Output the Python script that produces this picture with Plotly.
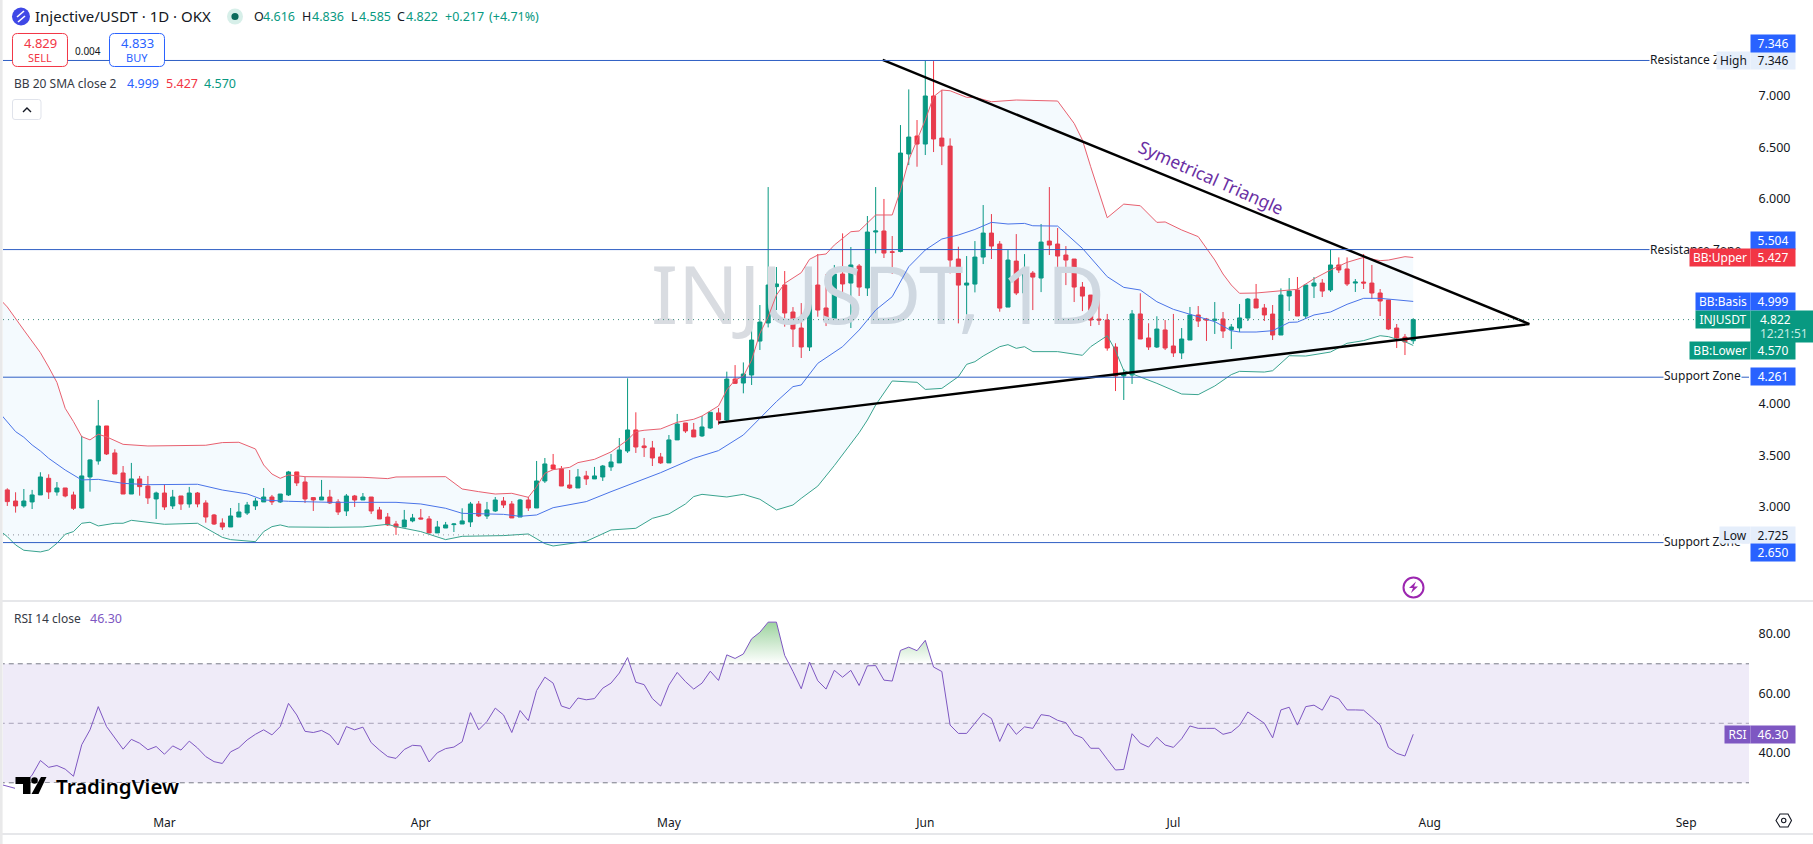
import datetime as dt
import plotly.graph_objects as go

W, H = 1813, 844
FONT = "Noto Sans"
INK = "#131722"
GREEN = "#089981"
RED = "#f23645"
BLUE = "#2962ff"
PURPLE = "#7e57c2"
LEVEL_BLUE = "#2f5fc4"

# Daily candles, one row per session: open, high, low, close
candles = [
    (3.163,3.179,3.007,3.049),(3.055,3.140,2.942,3.007),(3.007,3.172,2.990,3.055),(3.046,3.163,2.977,3.114),
    (3.114,3.335,3.114,3.289),(3.276,3.315,3.075,3.143),(3.143,3.240,3.107,3.182),(3.182,3.182,3.091,3.104),
    (3.114,3.146,2.968,2.984),(2.987,3.689,2.981,3.299),(3.289,3.461,3.146,3.455),(3.445,4.039,3.409,3.786),
    (3.786,3.786,3.503,3.513),(3.523,3.559,3.318,3.318),(3.328,3.396,3.123,3.123),(3.123,3.426,3.123,3.270),
    (3.270,3.299,3.107,3.195),(3.201,3.299,3.026,3.085),(3.075,3.146,2.880,3.133),(3.133,3.218,2.968,2.997),
    (3.007,3.163,2.977,3.094),(3.104,3.104,2.968,3.026),(3.026,3.192,2.990,3.133),(3.133,3.143,2.994,3.026),
    (3.036,3.062,2.844,2.899),(2.919,2.929,2.822,2.831),(2.841,2.886,2.773,2.802),(2.802,2.987,2.802,2.909),
    (2.899,3.036,2.899,2.948),(2.938,3.046,2.919,3.016),(3.007,3.085,2.968,3.055),(3.046,3.182,3.046,3.094),
    (3.094,3.114,3.016,3.046),(3.046,3.123,3.036,3.123),(3.114,3.348,3.104,3.338),(3.338,3.338,3.201,3.231),
    (3.240,3.289,3.036,3.075),(3.088,3.094,2.958,3.065),(3.065,3.260,3.065,3.094),(3.094,3.163,3.026,3.036),
    (3.046,3.072,2.919,2.948),(2.958,3.123,2.909,3.104),(3.104,3.114,2.997,3.065),(3.065,3.133,3.065,3.094),
    (3.094,3.094,2.929,2.958),(2.968,2.997,2.880,2.880),(2.899,2.938,2.812,2.822),(2.831,2.861,2.725,2.802),
    (2.802,2.968,2.802,2.870),(2.861,2.929,2.848,2.890),(2.890,2.977,2.877,2.880),(2.880,2.909,2.740,2.744),
    (2.744,2.861,2.744,2.802),(2.792,2.851,2.792,2.822),(2.825,2.838,2.753,2.831),(2.831,2.984,2.831,2.861),
    (2.851,3.046,2.802,3.026),(3.026,3.055,2.899,2.909),(2.909,3.046,2.880,2.968),(2.958,3.094,2.948,3.065),
    (3.055,3.094,2.987,3.016),(3.026,3.055,2.890,2.890),(2.899,3.075,2.899,3.065),(3.065,3.094,2.958,2.987),
    (2.987,3.445,2.987,3.250),(3.250,3.474,3.231,3.416),(3.406,3.513,3.357,3.367),(3.367,3.396,3.201,3.201),
    (3.211,3.357,3.172,3.182),(3.182,3.367,3.182,3.289),(3.299,3.348,3.211,3.270),(3.270,3.387,3.270,3.299),
    (3.289,3.406,3.250,3.396),(3.387,3.513,3.348,3.435),(3.426,3.669,3.426,3.552),(3.542,4.250,3.523,3.747),
    (3.747,3.919,3.523,3.581),(3.591,3.669,3.484,3.575),(3.572,3.640,3.396,3.474),(3.484,3.523,3.416,3.426),
    (3.426,3.698,3.426,3.650),(3.650,3.903,3.650,3.805),(3.815,3.815,3.718,3.737),(3.747,3.815,3.679,3.679),
    (3.689,3.883,3.679,3.776),(3.766,3.922,3.757,3.919),(3.913,3.961,3.796,3.844),(3.844,4.315,3.825,4.243),
    (4.243,4.379,4.195,4.201),(4.204,4.405,4.104,4.292),(4.282,4.792,4.185,4.623),(4.613,4.964,4.526,4.798),
    (4.789,6.113,4.746,5.159),(5.143,5.334,4.915,5.169),(5.159,5.295,4.753,4.886),(4.896,4.944,4.555,4.730),
    (4.740,4.983,4.448,4.555),(4.555,5.175,4.516,5.159),(5.159,5.461,4.850,4.915),(4.935,5.266,4.759,4.808),
    (4.808,5.354,4.808,5.266),(5.266,5.662,5.061,5.169),(5.178,5.529,4.740,5.354),(5.344,5.363,5.052,5.139),
    (5.130,5.831,5.052,5.675),(5.675,6.113,5.467,5.685),(5.685,5.997,5.422,5.470),(5.483,5.636,5.266,5.477),
    (5.486,6.717,5.477,6.444),(6.435,7.064,6.327,6.600),(6.610,6.766,6.311,6.532),(6.532,7.346,6.425,7.000),
    (7.000,7.340,6.454,6.581),(6.590,7.058,6.327,6.512),(6.512,6.587,5.272,5.402),(5.412,5.532,4.785,5.158),
    (5.158,5.441,4.844,5.178),(5.168,5.587,5.087,5.431),(5.431,5.938,5.363,5.665),(5.665,5.850,5.412,5.538),
    (5.558,5.587,4.899,4.934),(4.944,5.499,4.944,5.402),(5.392,5.655,5.061,5.081),(5.081,5.460,5.042,5.275),
    (5.275,5.295,4.915,5.236),(5.227,5.753,5.090,5.577),(5.587,6.113,5.451,5.548),(5.558,5.714,5.285,5.441),
    (5.451,5.538,5.158,5.402),(5.412,5.412,4.993,5.139),(5.139,5.188,4.905,5.051),(5.061,5.061,4.759,4.818),
    (4.827,5.029,4.769,4.818),(4.818,4.877,4.519,4.545),(4.555,4.591,4.126,4.273),(4.273,4.341,4.039,4.292),
    (4.282,4.915,4.195,4.877),(4.877,5.078,4.633,4.633),(4.643,4.786,4.526,4.555),(4.555,4.854,4.545,4.730),
    (4.721,4.818,4.526,4.545),(4.565,4.877,4.458,4.497),(4.497,4.740,4.438,4.633),(4.623,4.945,4.623,4.867),
    (4.867,4.954,4.750,4.808),(4.828,4.838,4.614,4.818),(4.815,4.993,4.682,4.825),(4.828,4.896,4.643,4.711),
    (4.721,4.779,4.536,4.750),(4.740,4.974,4.701,4.838),(4.837,5.032,4.808,5.022),(5.022,5.169,4.935,4.935),
    (4.935,4.974,4.808,4.867),(4.876,4.964,4.623,4.672),(4.672,5.126,4.672,5.061),(5.052,5.227,4.906,5.100),
    (5.110,5.237,4.857,4.857),(4.857,5.159,4.828,5.159),(5.149,5.237,5.032,5.178),(5.178,5.217,5.042,5.100),
    (5.110,5.506,5.091,5.354),(5.354,5.428,5.276,5.305),(5.315,5.428,5.149,5.169),(5.178,5.217,5.091,5.188),
    (5.188,5.461,5.120,5.178),(5.178,5.354,5.022,5.081),(5.081,5.120,4.857,5.003),(5.013,5.013,4.720,4.730),
    (4.740,4.779,4.545,4.643),(4.652,4.682,4.477,4.604),(4.616,4.836,4.585,4.822),
]

# Bollinger band readings as (session number, price)
bb_upper = [
    (0,5.03),(1,4.945),(3,4.72),(5,4.50),(6,4.36),(7,4.21),(8,3.958),(9,3.828),(10,3.682),(11,3.650),(12,3.705),
    (13,3.68),(15,3.607),(18,3.591),(25,3.598),(27,3.624),(29,3.627),(31,3.562),(32,3.406),(33,3.318),(34,3.276),
    (35,3.309),(37,3.292),(40,3.289),(44,3.286),(47,3.273),(48,3.289),(54,3.292),(56,3.172),(58,3.146),(60,3.123),
    (62,3.130),(64,3.091),(65,3.195),(66,3.325),(67,3.36),(69,3.383),(70,3.429),(72,3.461),(74,3.533),(76,3.650),
    (77,3.731),(78,3.744),(80,3.757),(82,3.822),(84,3.851),(85,3.883),(87,3.981),(88,4.137),(89,4.234),(90,4.27),
    (91,4.428),(92,4.688),(93,4.850),(94,5.061),(95,5.175),(97,5.279),(98,5.409),(99,5.451),(100,5.461),(101,5.548),
    (103,5.678),(104,5.685),(106,5.841),(108,5.841),(109,6.08),(110,6.376),(111,6.571),(112,6.766),(113,6.993),
    (114,7.058),(115,7.051),(117,6.987),(118,6.987),(120,6.944),(123,6.961),(128,6.951),(130,6.733),(131,6.571),
    (132,6.311),(134,5.814),(136,5.947),(138,5.931),(140,5.769),(141,5.773),(143,5.695),(145,5.630),(147,5.403),
    (148,5.266),(149,5.159),(150,5.078),(152,5.081),(155,5.104),(157,5.117),(159,5.220),(161,5.305),(163,5.380),
    (165,5.428),(167,5.396),(168,5.402),(170,5.435),(171,5.427),
]
bb_basis = [
    (0,3.92),(1,3.828),(2,3.731),(3,3.676),(4,3.601),(5,3.542),(6,3.471),(8,3.357),(10,3.260),(12,3.266),(15,3.227),
    (18,3.214),(24,3.218),(27,3.162),(30,3.124),(32,3.065),(35,3.052),(40,3.042),(48,3.042),(51,3.026),(54,2.984),
    (56,2.935),(61,2.925),(63,2.906),(65,2.919),(67,2.990),(71,3.049),(74,3.146),(77,3.240),(80,3.331),(84,3.471),
    (87,3.546),(90,3.698),(94,4.023),(96,4.169),(97,4.185),(99,4.396),(102,4.558),(104,4.720),(106,4.915),(108,5.045),
    (110,5.337),(112,5.500),(114,5.607),(116,5.646),(118,5.700),(120,5.769),(122,5.753),(124,5.759),(125,5.736),
    (128,5.733),(131,5.516),(134,5.240),(136,5.136),(138,5.110),(140,4.996),(142,4.922),(145,4.851),(147,4.802),
    (149,4.714),(150,4.701),(152,4.701),(154,4.714),(156,4.795),(157,4.798),(159,4.867),(161,4.896),(163,4.971),
    (165,5.029),(167,5.029),(171,4.999),
]
bb_lower = [
    (0,2.773),(1,2.708),(2,2.627),(3,2.575),(5,2.559),(6,2.578),(7,2.643),(8,2.731),(9,2.757),(10,2.838),(11,2.848),
    (12,2.812),(14,2.838),(15,2.838),(16,2.867),(18,2.848),(20,2.828),(24,2.838),(27,2.701),(28,2.679),(31,2.659),
    (32,2.757),(33,2.805),(34,2.822),(35,2.802),(40,2.799),(44,2.802),(47,2.828),(48,2.805),(51,2.757),(53,2.701),
    (54,2.679),(56,2.711),(61,2.718),(64,2.734),(66,2.640),(67,2.617),(71,2.662),(74,2.773),(77,2.789),(79,2.886),
    (81,2.929),(83,3.026),(84,3.098),(85,3.120),(88,3.094),(90,3.120),(92,3.072),(94,2.968),(96,3.016),(97,3.081),
    (99,3.20),(101,3.40),(104,3.72),(105,3.844),(106,3.990),(108,4.224),(111,4.211),(112,4.142),(114,4.152),(116,4.266),
    (117,4.386),(118,4.412),(119,4.467),(121,4.558),(122,4.578),(123,4.542),(124,4.558),(125,4.510),(128,4.510),
    (131,4.474),(132,4.558),(134,4.665),(135,4.52),(136,4.325),(138,4.266),(140,4.201),(143,4.097),(145,4.091),
    (147,4.175),(149,4.286),(150,4.318),(153,4.311),(154,4.324),(156,4.470),(158,4.467),(161,4.506),(163,4.591),
    (165,4.617),(167,4.665),(168,4.656),(170,4.607),(171,4.570),
]

# RSI(14), starting one session before the first candle
rsi_values = [
    29.6,28.9,28.1,29.6,32.6,37.5,35.2,35.8,34.6,32.2,42.8,47.8,55.6,48.9,44.9,41.3,44.6,43.3,41.1,42.2,39.6,42.4,41.0,
    44.0,41.7,38.8,37.1,36.5,40.4,41.8,44.4,46.3,47.8,46.1,48.9,56.7,52.8,47.3,46.9,47.6,46.1,42.7,48.9,47.8,48.7,
    43.5,41.0,38.8,38.2,41.2,42.6,42.4,37.0,40.1,41.5,42.0,43.8,53.6,47.8,50.6,55.1,52.8,46.9,54.3,50.9,61.0,65.5,
    63.5,55.8,54.9,58.5,57.9,58.3,61.8,63.5,66.9,72.1,63.8,63.0,58.3,55.8,62.8,67.1,64.0,61.5,63.5,67.5,64.4,73.0,
    71.8,73.3,78.4,80.6,84.0,84.0,72.8,67.4,61.6,70.6,64.3,61.5,67.8,65.5,67.8,62.7,69.3,69.4,64.5,64.2,74.5,75.6,
    74.4,77.9,68.9,67.4,49.4,46.6,46.6,50.0,53.4,51.6,43.9,49.9,46.3,48.8,48.3,52.9,52.5,51.0,50.2,46.2,45.1,41.6,
    41.6,37.9,34.3,34.5,46.5,43.3,42.0,45.3,42.7,41.9,44.8,49.1,48.3,48.3,48.3,46.3,47.0,49.3,53.8,51.9,50.0,45.1,
    54.5,55.4,49.4,55.6,56.1,54.4,59.3,58.2,54.5,54.5,54.4,52.0,49.4,41.9,39.9,39.0,46.30,
]

# Horizontal levels drawn on the price pane
resistance_top = 7.346
resistance_zone = 5.504
support_zone = 4.261
support_low = 2.650
period_low = 2.725
last_close = 4.822
bb_now = {"basis": 4.999, "upper": 5.427, "lower": 4.570}

price_ticks = [7.0, 6.5, 6.0, 4.0, 3.5, 3.0]
rsi_ticks = [80, 60, 40]
rsi_levels = [70, 50, 30]
month_ticks = ["2026-03-01", "2026-04-01", "2026-05-01", "2026-06-01", "2026-07-01", "2026-08-01", "2026-09-01"]
month_labels = ["Mar", "Apr", "May", "Jun", "Jul", "Aug", "Sep"]

# Trend lines of the triangle, as (time, price)
triangle_upper = [("2026-05-26 20:24", 7.351), ("2026-08-13 01:00", 4.779)]
triangle_lower = [("2026-05-07 00:00", 3.818), ("2026-08-13 01:00", 4.779)]

FIRST_SESSION = dt.datetime(2026, 2, 10)


def session(n):
    return FIRST_SESSION + dt.timedelta(days=n - 1)


def px(x):
    return x / W


def py(y):
    return 1 - y / H


def pt(x, y):
    return f"{px(x):.5f},{py(y):.5f}"


def rrect_path(x0, y0, x1, y1, r):
    return (
        f"M{pt(x0 + r, y0)} L{pt(x1 - r, y0)} Q{pt(x1, y0)} {pt(x1, y0 + r)} "
        f"L{pt(x1, y1 - r)} Q{pt(x1, y1)} {pt(x1 - r, y1)} L{pt(x0 + r, y1)} "
        f"Q{pt(x0, y1)} {pt(x0, y1 - r)} L{pt(x0, y0 + r)} Q{pt(x0, y0)} {pt(x0 + r, y0)} Z"
    )


def poly_path(points, close=True):
    body = " L".join(pt(x, y) for x, y in points)
    return "M" + body + (" Z" if close else "")


shapes = []
annotations = []


def add_path(path, fill=None, line=None, width=1):
    shapes.append(dict(type="path", xref="paper", yref="paper", path=path,
                       fillcolor=fill or "rgba(0,0,0,0)",
                       line=dict(color=line or "rgba(0,0,0,0)", width=width if line else 0)))


def add_circle(cx, cy, r, fill=None, line=None, width=1):
    shapes.append(dict(type="circle", xref="paper", yref="paper",
                       x0=px(cx - r), x1=px(cx + r), y0=py(cy + r), y1=py(cy - r),
                       fillcolor=fill or "rgba(0,0,0,0)",
                       line=dict(color=line or "rgba(0,0,0,0)", width=width if line else 0)))


def add_rule(x0, x1, y, color, width=1):
    shapes.append(dict(type="line", xref="paper", yref="paper", x0=px(x0), x1=px(x1), y0=py(y), y1=py(y),
                       line=dict(color=color, width=width)))


def add_level(price, color, dash="solid", x1=1749):
    shapes.append(dict(type="line", xref="paper", yref="y", x0=px(3), x1=px(x1), y0=price, y1=price,
                       line=dict(color=color, width=1, dash=dash)))


def label(x, y, text, size=12, color=INK, anchor="left", weight=None, **kw):
    font = dict(family=FONT, size=size, color=color)
    if weight:
        font["weight"] = weight
    annotations.append(dict(xref="paper", yref="paper", x=px(x), y=py(y), text=text, showarrow=False,
                            xanchor=anchor, yanchor="middle", font=font, borderpad=0, **kw))


def badge(x0, x1, y0, y1, text, bg, color="#ffffff", size=12):
    annotations.append(dict(xref="paper", yref="paper", x=px(x0), y=py((y0 + y1) / 2), text=text, showarrow=False,
                            xanchor="left", yanchor="middle", width=x1 - x0, height=y1 - y0, bgcolor=bg,
                            align="center", valign="middle", borderpad=0,
                            font=dict(family=FONT, size=size, color=color)))


# Pane dividers and the left edge
add_rule(0, W, 601, "#e6e7ea", 2)
add_rule(0, W, 834, "#e6e7ea", 2)
shapes.append(dict(type="rect", xref="paper", yref="paper", x0=0, x1=px(2.6), y0=0, y1=1,
                   fillcolor="#e9e9ea", line=dict(width=0)))

# Price levels
for value in (resistance_top, resistance_zone, support_zone, support_low):
    add_level(value, LEVEL_BLUE)
add_level(period_low, "#8a8e99", "1px,4px", 1716)
add_level(last_close, "#3f8f7f", "1px,4px", 1695)

# Header: symbol badge, market status, order buttons
add_circle(21, 16.5, 9, fill="#3f48e6")
add_path(poly_path([(17, 17), (24, 11)], close=False), line="#ffffff", width=1.6)
add_path(poly_path([(18, 22), (25, 16)], close=False), line="#ffffff", width=1.6)
add_circle(235, 16.5, 8, fill="#d7efe9")
add_circle(235, 16.5, 3.6, fill="#0b6b5c")
add_path(rrect_path(12.5, 33.5, 67.5, 66.5, 5), fill="#ffffff", line=RED)
add_path(rrect_path(109.5, 33.5, 164.5, 66.5, 5), fill="#ffffff", line=BLUE)
add_path(rrect_path(12.5, 99.5, 41, 119.5, 2.5), fill="#ffffff", line="#e0e3eb")
add_path(poly_path([(23, 112), (27, 108), (31, 112)], close=False), line=INK, width=1.4)

# Session-break marker and chart settings glyph
add_circle(1413.5, 587.5, 10, line="#9c27b0", width=2)
add_path(poly_path([(1416, 581.5), (1409, 588), (1413, 588), (1411, 593), (1418, 586.5), (1414, 586.5)]), fill="#9c27b0")
add_path(poly_path([(1776, 820.5), (1780, 814), (1788, 814), (1791.5, 820.5), (1788, 827), (1780, 827)]),
         line="#131722", width=1.1)
add_circle(1783.7, 820.5, 2.2, line="#131722", width=1.1)

# TradingView mark over the RSI pane
shapes.append(dict(type="rect", xref="paper", yref="paper", x0=px(15), x1=px(178), y0=py(797), y1=py(783),
                   fillcolor="#ffffff", line=dict(width=0)))
add_path(poly_path([(15.5, 777), (30.5, 777), (30.5, 794), (23, 794), (23, 784), (15.5, 784)]), fill="#000000")
add_circle(34.5, 780.5, 3.3, fill="#000000")
add_path(poly_path([(41, 777), (46.5, 777), (38.5, 794), (31.5, 794)]), fill="#000000")

# Header text
label(34, 16.5, "Injective/USDT · 1D · OKX", 15)
for x, text, color in [
    (252.5, "O", INK), (262, "4.616", GREEN), (301, "H", INK), (311, "4.836", GREEN), (350, "L", INK),
    (357.5, "4.585", GREEN), (396, "C", INK), (405, "4.822", GREEN), (444, "+0.217", GREEN), (488, "(+4.71%)", GREEN),
]:
    label(x, 16.5, text, 12.5, color)
label(40, 42.5, "4.829", 13, RED, "center")
label(40, 57, "SELL", 11, RED, "center")
label(88, 50.5, "0.004", 10, INK, "center")
label(137, 42.5, "4.833", 13, BLUE, "center")
label(137, 57, "BUY", 11, BLUE, "center")
label(12.5, 83.5, "BB 20 SMA close 2", 12, "#363a45")
label(125.5, 83.5, f"{bb_now['basis']:.3f}", 12.5, BLUE)
label(164.5, 83.5, f"{bb_now['upper']:.3f}", 12.5, RED)
label(203, 83.5, f"{bb_now['lower']:.3f}", 12.5, GREEN)
label(12.5, 618.5, "RSI 14 close", 12, "#363a45")
label(89, 618.5, f"{rsi_values[-1]:.2f}", 12.5, PURPLE)
label(55, 785.5, "TradingView", 20.5, "#000000", weight=600)
label(1211, 177, "Symetrical Triangle", 17.5, "#6a2fa3", "center", textangle=24)

# Level captions on the right of the pane
for y, text in [(60, "Resistance Zone"), (249.3, "Resistance Zone")]:
    label(1742, y, text, 12, INK, "right", bgcolor="#ffffff")
for y, text in [(376, "Support Zone"), (541.5, "Support Zone")]:
    label(1742, y, text, 12, INK, "right", bgcolor="#ffffff")

# Price-scale badges
LIGHT = "#e5eefb"
badge(1716, 1749, 52, 68.7, "High", LIGHT, INK)
badge(1750, 1794, 52, 68.7, f"{resistance_top:.3f}", LIGHT, INK)
badge(1750, 1794, 35, 51.7, f"{resistance_top:.3f}", BLUE)
badge(1750, 1794, 232, 248.7, f"{resistance_zone:.3f}", BLUE)
badge(1689, 1749, 249, 265.7, "BB:Upper", RED)
badge(1750, 1794, 249, 265.7, f"{bb_now['upper']:.3f}", RED)
badge(1695, 1749, 293.3, 310, "BB:Basis", BLUE)
badge(1750, 1794, 293.3, 310, f"{bb_now['basis']:.3f}", BLUE)
badge(1695, 1749, 311, 327.7, "INJUSDT", GREEN)
badge(1750, 1812, 311, 342, "", GREEN)
label(1759, 319.5, f"{last_close:.3f}", 12, "#ffffff")
label(1759, 333.5, "12:21:51", 12, "#c4ebe3")
badge(1689, 1749, 342, 358.7, "BB:Lower", GREEN)
badge(1750, 1794, 342, 358.7, f"{bb_now['lower']:.3f}", GREEN)
badge(1750, 1794, 368, 384.7, f"{support_zone:.3f}", BLUE)
badge(1719, 1749, 527, 543, "Low", LIGHT, INK)
badge(1750, 1794, 527, 543, f"{period_low:.3f}", LIGHT, INK)
badge(1750, 1794, 544, 560.7, f"{support_low:.3f}", BLUE)
badge(1724, 1749, 726, 742.7, "RSI", PURPLE)
badge(1750, 1794, 726, 742.7, f"{rsi_values[-1]:.2f}", PURPLE)

fig = go.Figure()

# Watermark sits under every series
fig.add_trace(go.Scatter(x=["2026-05-26 07:00"], y=[4.97], mode="text", text=["INJUSDT, 1D"],
                         textposition="middle center", hoverinfo="skip", showlegend=False,
                         textfont=dict(family=FONT, size=80, color="#d9dce1"), yaxis="y"))

# Bollinger band fill and lines
upper_x = [session(n) for n, _ in bb_upper]
upper_y = [v for _, v in bb_upper]
lower_x = [session(n) for n, _ in bb_lower]
lower_y = [v for _, v in bb_lower]
fig.add_trace(go.Scatter(x=upper_x + lower_x[::-1], y=upper_y + lower_y[::-1], mode="lines", fill="toself",
                         fillcolor="rgba(33,150,243,0.05)", line=dict(width=0), hoverinfo="skip", showlegend=False))
fig.add_trace(go.Scatter(x=upper_x, y=upper_y, mode="lines", line=dict(color="#e8606f", width=1), showlegend=False))
fig.add_trace(go.Scatter(x=[session(n) for n, _ in bb_basis], y=[v for _, v in bb_basis], mode="lines",
                         line=dict(color="#4a74e8", width=1), showlegend=False))
fig.add_trace(go.Scatter(x=lower_x, y=lower_y, mode="lines", line=dict(color="#3aa48f", width=1), showlegend=False))

# Candles
fig.add_trace(go.Candlestick(
    x=[session(i + 1) for i in range(len(candles))],
    open=[c[0] for c in candles], high=[c[1] for c in candles],
    low=[c[2] for c in candles], close=[c[3] for c in candles],
    increasing=dict(line=dict(color=GREEN, width=1), fillcolor=GREEN),
    decreasing=dict(line=dict(color=RED, width=1), fillcolor=RED),
    showlegend=False,
))

# Symmetrical triangle
for leg in (triangle_upper, triangle_lower):
    fig.add_trace(go.Scatter(x=[p[0] for p in leg], y=[p[1] for p in leg], mode="lines",
                             line=dict(color="#000000", width=2.4), hoverinfo="skip", showlegend=False))

# RSI pane: band, overbought gradient, guide levels, line
rsi_x = [session(i) for i in range(len(rsi_values))]
band_x = [session(-1), session(260)]
fig.add_trace(go.Scatter(x=band_x + band_x[::-1], y=[rsi_levels[0]] * 2 + [rsi_levels[2]] * 2, yaxis="y2", mode="lines",
                         fill="toself", fillcolor="rgba(126,87,194,0.12)", line=dict(width=0),
                         hoverinfo="skip", showlegend=False))

over_x, over_y = [], []
ceiling = rsi_levels[0]
for i, value in enumerate(rsi_values):
    if i:
        prev = rsi_values[i - 1]
        if (prev - ceiling) * (value - ceiling) < 0:
            share = (ceiling - prev) / (value - prev)
            over_x.append(rsi_x[i - 1] + (rsi_x[i] - rsi_x[i - 1]) * share)
            over_y.append(ceiling)
    over_x.append(rsi_x[i])
    over_y.append(max(value, ceiling))
fig.add_trace(go.Scatter(x=over_x + over_x[::-1], y=over_y + [ceiling] * len(over_x), yaxis="y2", mode="lines",
                         fill="toself", line=dict(width=0), hoverinfo="skip", showlegend=False,
                         fillgradient=dict(type="vertical", start=84, stop=70,
                                           colorscale=[[0, "rgba(76,175,80,0.55)"], [1, "rgba(76,175,80,0.0)"]])))

for level, color in zip(rsi_levels, ("#787b86", "#a8a3b8", "#787b86")):
    fig.add_trace(go.Scatter(x=band_x, y=[level, level], yaxis="y2", mode="lines", hoverinfo="skip", showlegend=False,
                             line=dict(color=color, width=1, dash="5px,4px")))
fig.add_trace(go.Scatter(x=rsi_x, y=rsi_values, yaxis="y2", mode="lines", line=dict(color=PURPLE, width=1),
                         showlegend=False))

fig.update_layout(
    width=W, height=H, autosize=False,
    margin=dict(l=0, r=0, t=0, b=0, pad=0),
    paper_bgcolor="#ffffff", plot_bgcolor="#ffffff",
    showlegend=False,
    font=dict(family=FONT, size=12, color=INK),
    shapes=shapes, annotations=annotations,
    xaxis=dict(
        domain=[px(3), px(1749)], anchor="y2", type="date",
        range=["2026-02-09 11:30", "2026-09-08 14:24"],
        rangeslider=dict(visible=False),
        tickmode="array", tickvals=month_ticks, ticktext=month_labels,
        showgrid=False, zeroline=False, showline=False,
        ticks="outside", ticklen=6, tickcolor="#ffffff", tickfont=dict(family=FONT, size=12, color=INK),
    ),
    yaxis=dict(
        domain=[py(601), 1], anchor="x", side="right", range=[2.081, 7.935],
        tickmode="array", tickvals=price_ticks, ticktext=[f"{t:.3f}" for t in price_ticks],
        showgrid=False, zeroline=False, showline=False,
        ticks="outside", ticklen=6, tickcolor="#ffffff", tickfont=dict(family=FONT, size=12.5, color=INK),
    ),
    yaxis2=dict(
        domain=[py(806), py(602)], anchor="x", side="right", range=[22.2, 90.77],
        tickmode="array", tickvals=rsi_ticks, ticktext=[f"{t:.2f}" for t in rsi_ticks],
        showgrid=False, zeroline=False, showline=False,
        ticks="outside", ticklen=6, tickcolor="#ffffff", tickfont=dict(family=FONT, size=12.5, color=INK),
    ),
)

fig.write_html("out.html", include_plotlyjs=True, config=dict(displayModeBar=False))
